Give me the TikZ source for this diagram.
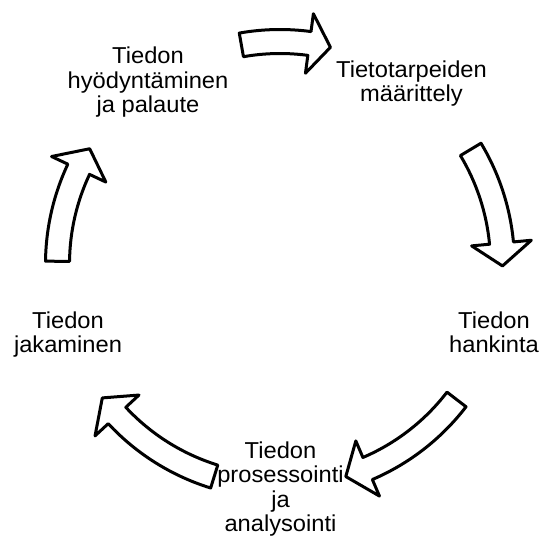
\documentclass[tikz,border=0pt]{standalone}
\usepackage{fontspec}
\setmainfont[FakeStretch=1.03]{Liberation Sans}
\newcommand\cycarrow[3]{%
  \draw[blockarrow] (#1:234.5) arc[start angle=#1, end angle=#2, radius=234.5]
    -- (#2:252.5) -- (#3:222.5) -- (#2:192.5) -- (#2:210.5)
    arc[start angle=#2, end angle=#1, radius=210.5] -- cycle;}
\begin{document}
\begin{tikzpicture}[x=1pt,y=1pt,
  lab/.style={align=center, inner sep=0pt, anchor=north, font=\fontsize{23}{24.5}\selectfont},
  blockarrow/.style={draw=black, fill=white, line width=3pt, line join=round}]
\useasboundingbox (0,0) rectangle (539,-536);
\begin{scope}[shift={(280,-264)}]
  \cycarrow{100}{82.4}{76.9}
  \cycarrow{31}{5.4}{-0.5}
  \cycarrow{-37.5}{-66.8}{-72.8}
  \cycarrow{252.8}{222.9}{217}
  \cycarrow{179.3}{154.8}{148.8}
\end{scope}
\node[lab] (use) at (148,-47) {Tiedon\\hyödyntäminen\\ja palaute};
\node[lab] (need) at (411.5,-60.5) {Tietotarpeiden\\määrittely};
\node[lab] (acq) at (494,-311.5) {Tiedon\\hankinta};
\node[lab] (proc) at (280.5,-441.5) {Tiedon\\prosessointi\\ja\\analysointi};
\node[lab] (share) at (68,-311.5) {Tiedon\\jakaminen};
\end{tikzpicture}
\end{document}
